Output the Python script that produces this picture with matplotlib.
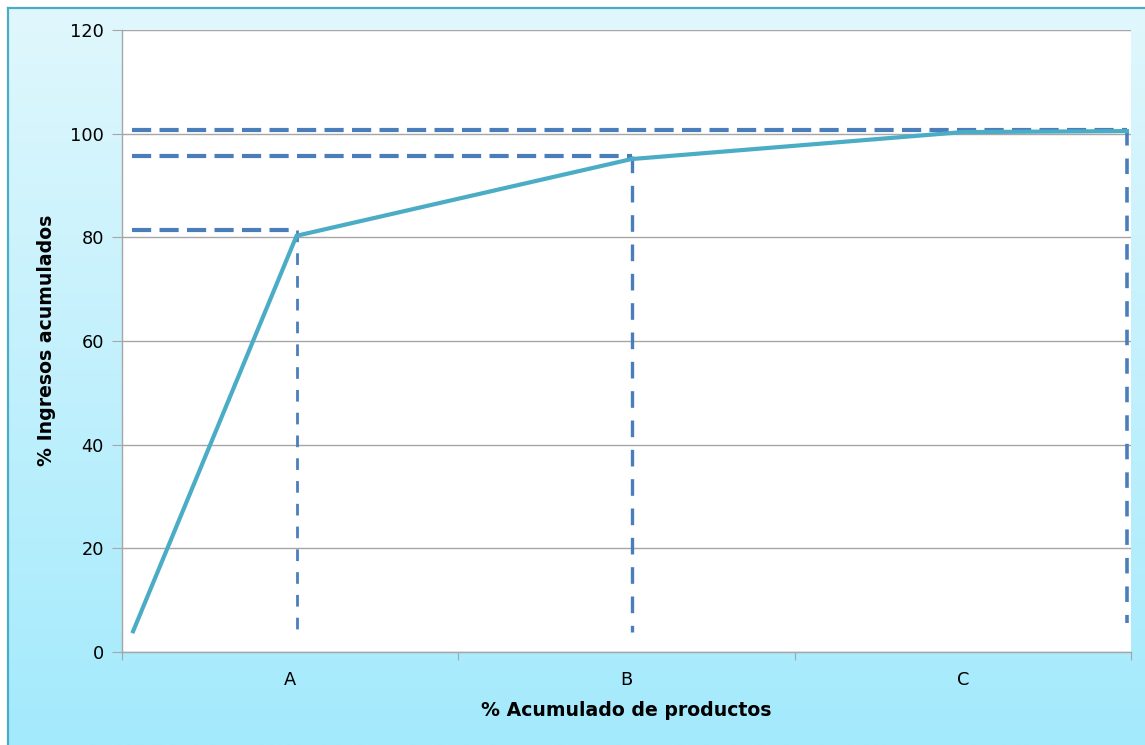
import numpy as np
import matplotlib
matplotlib.use("Agg")
import matplotlib.pyplot as plt
from matplotlib.lines import Line2D

plt.rcParams['font.family'] = ['DejaVu Sans']

# curva ABC: % acumulado de productos vs % ingresos acumulados
x_prod = [1.1, 17.3, 50.5, 83.3, 99.6]
y_ingr = [4.0, 80.3, 95.1, 100.3, 100.5]

# cortes de cada clase (lineas guia)
corte_x = [17.3, 50.5, 99.6]
corte_y = [81.5, 95.7, 100.7]
corte_base = [3.9, 3.9, 5.5]
inicio_x = 1.0

clases = ['A', 'B', 'C']
y_ticks = [0, 20, 40, 60, 80, 100, 120]

W, H = 1145, 745
fig = plt.figure(figsize=(W / 100, H / 100), dpi=100)
fig.patch.set_facecolor('white')

# fondo con degradado vertical
bg = fig.add_axes([7 / W, 0, 1 - 7 / W, 1 - 7 / H])
top = np.array([224, 247, 253]) / 255
bot = np.array([163, 234, 252]) / 255
t = np.linspace(0, 1, 256)[:, None]
grad = top * (1 - t) + bot * t
bg.imshow(grad[:, None, :], aspect='auto', extent=[0, 1, 0, 1])
bg.set_axis_off()

# borde del marco
fig.add_artist(Line2D([7.5 / W, 7.5 / W], [0, 1 - 7.5 / H], transform=fig.transFigure,
                      color='#4BACC6', lw=1.6))
fig.add_artist(Line2D([7.5 / W, 1], [1 - 7.5 / H, 1 - 7.5 / H], transform=fig.transFigure,
                      color='#4BACC6', lw=1.6))

ax = fig.add_axes([122 / W, 1 - 652 / H, (1131 - 122) / W, (652 - 30) / H])
ax.set_facecolor('white')
ax.set_xlim(0, 100)
ax.set_ylim(0, 120)

ax.set_yticks(y_ticks)
ax.set_yticklabels([str(v) for v in y_ticks], fontsize=12.8)
ax.yaxis.grid(True, color='#A6A6A6', lw=1.0)
ax.set_axisbelow(True)

bordes = np.linspace(0, 100, len(clases) + 1)
ax.set_xticks(bordes)
ax.set_xticklabels([''] * len(bordes))
ax.set_xticks((bordes[:-1] + bordes[1:]) / 2, minor=True)
ax.set_xticklabels(clases, minor=True, fontsize=12.8)
ax.tick_params(axis='x', which='minor', length=0, pad=14)
ax.tick_params(axis='x', which='major', length=6, color='#A6A6A6')
ax.tick_params(axis='y', length=7, color='#A6A6A6', pad=6)

for s in ['top', 'right']:
    ax.spines[s].set_visible(False)
for s in ['left', 'bottom']:
    ax.spines[s].set_color('#A6A6A6')
    ax.spines[s].set_linewidth(1.0)

azul = '#4A7EBB'

# lineas guia horizontales
for cx, cy in zip(corte_x, corte_y):
    ax.plot([inicio_x, cx], [cy, cy], color=azul, lw=3.0, dashes=(4.6, 2.0),
            solid_capstyle='butt', zorder=3)

# lineas guia verticales
anchos = [2.0, 2.4, 2.6]
trazos = [(4.2, 4.0), (5.0, 3.8), (4.3, 3.6)]
for cx, cy, cb, lw, d in zip(corte_x, corte_y, corte_base, anchos, trazos):
    ax.plot([cx, cx], [cy, cb], color=azul, lw=lw, dashes=d, zorder=3)

# curva acumulada
ax.plot(x_prod, y_ingr, color='#4BACC6', lw=3.0, solid_joinstyle='miter', zorder=4)

ax.set_ylabel('% Ingresos acumulados', fontsize=13.6, fontweight='bold', va='center')
ax.set_xlabel('% Acumulado de productos', fontsize=13.6, fontweight='bold', va='center')
ax.yaxis.set_label_coords((47 - 122) / 1009, (652 - 340) / 622)
ax.xaxis.set_label_coords((626 - 122) / 1009, -(710 - 652) / 622)

fig.savefig('out.png', dpi=100)
